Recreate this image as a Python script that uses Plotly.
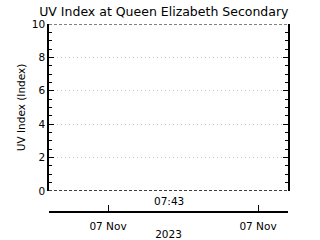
import plotly.graph_objects as go

title = "UV Index at Queen Elizabeth Secondary"
y_label = "UV Index (Index)"
year_label = "2023"
last_time_label = "07:43"
times = []            # no data points in the reference
uv_values = []
x_range = ["2023-11-07 06:56:24", "2023-11-07 08:32:00"]
tick_times = ["2023-11-07 07:20:00", "2023-11-07 08:20:00"]
tick_text = ["07 Nov", "07 Nov"]
y_range = [0, 10]
y_ticks = [0, 2, 4, 6, 8, 10]

FONT = "DejaVu Sans"
fig = go.Figure()
fig.add_trace(go.Scatter(x=times, y=uv_values, mode="lines", line=dict(color="black"),
                         xaxis="x", yaxis="y", showlegend=False))
fig.add_trace(go.Scatter(x=times, y=uv_values, mode="lines", line=dict(color="black"),
                         xaxis="x", yaxis="y2", showlegend=False))

fig.update_layout(
    width=320, height=240,
    margin=dict(l=49, r=32, t=24, b=28, autoexpand=False),
    paper_bgcolor="white", plot_bgcolor="white",
    font=dict(family=FONT, size=10.5, color="black"),
    title=dict(text=title, x=0.512, xanchor="center", y=0.95, yanchor="middle",
               font=dict(family=FONT, size=12.5, color="black")),
    xaxis=dict(type="date", range=x_range, anchor="free", position=0, automargin=False,
               tickvals=tick_times, ticktext=tick_text, ticks="inside", ticklen=6,
               ticklabelstandoff=5,
               tickcolor="black", showline=True, linecolor="black", linewidth=1.5,
               showgrid=False, zeroline=False,
               title=dict(text=year_label, standoff=0, font=dict(size=10.5)),
               tickfont=dict(size=10.5)),
    yaxis=dict(range=y_range, domain=[0.112, 1], anchor="x", automargin=False, tickvals=y_ticks,
               ticks="inside", ticklen=5, tickcolor="black",
               minor=dict(dtick=0.5, tick0=0, ticks="inside", ticklen=3, tickcolor="black", showgrid=False),
               showline=True, linecolor="black", linewidth=1.5,
               showgrid=True, gridcolor="#c8c8c8", griddash="1px,3px", gridwidth=1,
               zeroline=False, title=dict(text=y_label, standoff=4, font=dict(size=10.5)),
               tickfont=dict(size=10.5)),
    yaxis2=dict(range=y_range, overlaying="y", side="right", anchor="x", automargin=False,
                tickvals=y_ticks, ticks="inside", ticklen=5, tickcolor="black",
                minor=dict(dtick=0.5, tick0=0, ticks="inside", ticklen=3, tickcolor="black", showgrid=False),
                showticklabels=False, showline=True, linecolor="black", linewidth=1.5,
                showgrid=False, zeroline=False),
)

# dashed top and bottom borders of the plot box
for yv in (y_range[0], y_range[1]):
    fig.add_shape(type="line", xref="paper", yref="y", x0=0, x1=1, y0=yv, y1=yv,
                  line=dict(color="black", width=1.2, dash="3px,2px"))

fig.add_annotation(text=last_time_label, xref="paper", yref="paper", x=0.5, y=0.058,
                   showarrow=False, xanchor="center", yanchor="middle",
                   font=dict(family=FONT, size=10.5, color="black"))

fig.write_html("out.html")
